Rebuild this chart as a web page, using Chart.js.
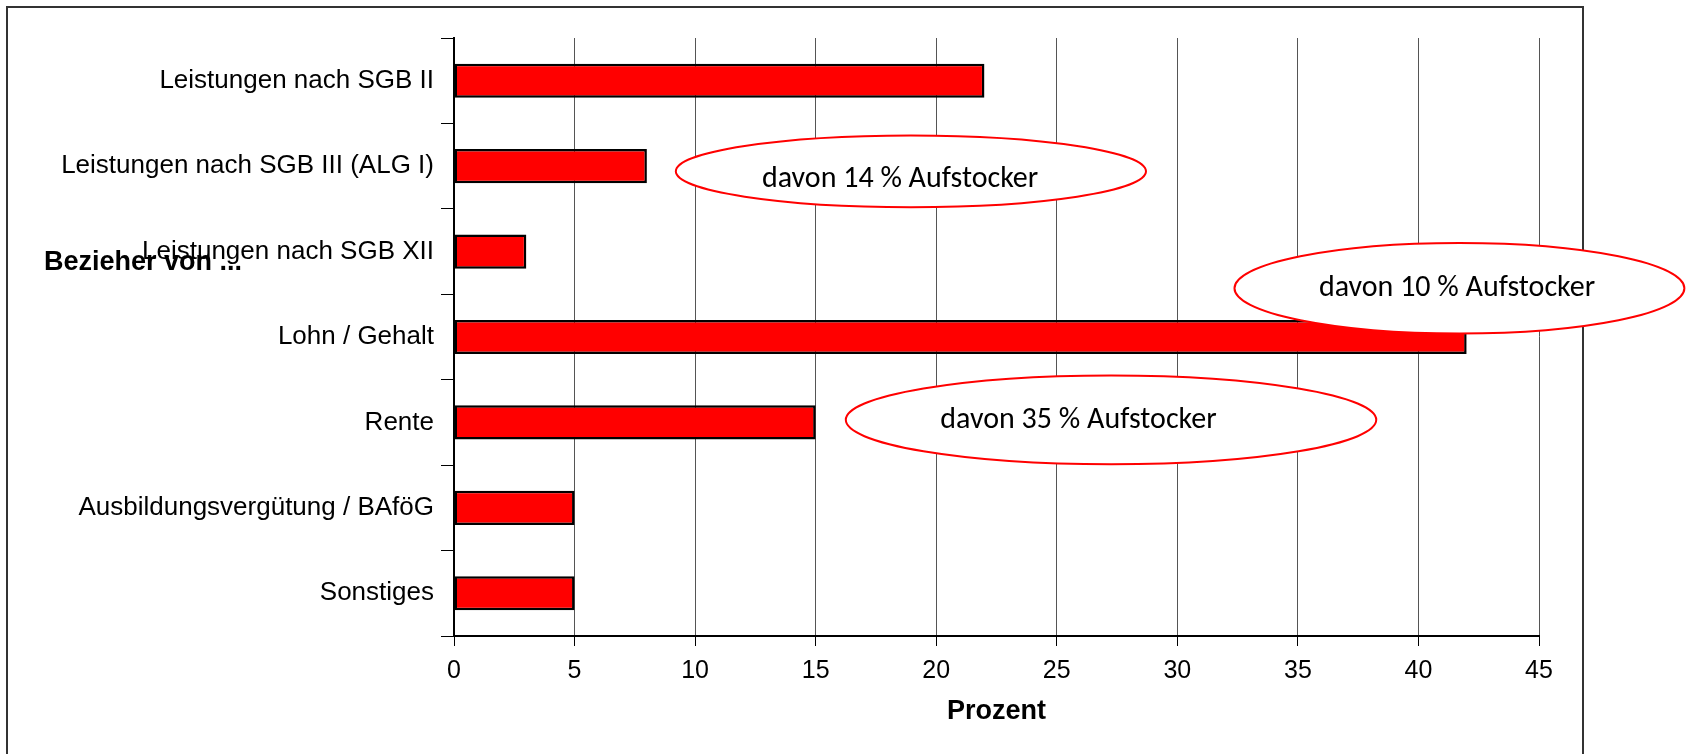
<!DOCTYPE html>
<html lang="de">
<head>
<meta charset="utf-8">
<title>Bezieher von ...</title>
<script src="https://cdn.jsdelivr.net/npm/chart.js@4/dist/chart.umd.min.js"></script>
<style>
  html, body { margin: 0; padding: 0; background: #fff; }
  #wrap { position: relative; width: 1688px; height: 754px; }
</style>
</head>
<body>
<div id="wrap"><canvas id="incomeChart"></canvas></div>
<script>
const categories = [
  "Leistungen nach SGB II",
  "Leistungen nach SGB III (ALG I)",
  "Leistungen nach SGB XII",
  "Lohn / Gehalt",
  "Rente",
  "Ausbildungsvergütung / BAföG",
  "Sonstiges"
];
const percentValues = [22, 8, 3, 42, 15, 5, 5];
const xMin = 0;
const xMax = 45;
const xStep = 5;

const axisTitle = "Prozent";
const groupTitle = "Bezieher von ...";
const noteTexts = ["davon 14 % Aufstocker", "davon 10 % Aufstocker", "davon 35 % Aufstocker"];

// where the callout ellipses sit, in axis units (x = percent, y = row index)
const noteLayout = [
  { cx: 18.95, cy: 1.06, rx: 9.75, ry: 0.42, tx: 18.5, ty: 1.244 },
  { cx: 41.7,  cy: 2.43, rx: 9.33, ry: 0.53, tx: 41.6, ty: 2.52 },
  { cx: 27.25, cy: 3.97, rx: 11,   ry: 0.52, tx: 25.9, ty: 4.07 }
];

const ARIAL = "'Liberation Sans', Arial, sans-serif";

const calloutPlugin = {
  id: 'callouts',
  beforeDraw(chart) {
    const ctx = chart.ctx;
    ctx.save();
    ctx.strokeStyle = '#333';
    ctx.lineWidth = 2;
    ctx.beginPath();
    ctx.moveTo(7, 754);
    ctx.lineTo(7, 7);
    ctx.lineTo(1583, 7);
    ctx.lineTo(1583, 754);
    ctx.stroke();
    ctx.restore();
  },
  afterDatasetsDraw(chart) {
    const {ctx, scales: {x, y}} = chart;
    const row = y.getPixelForValue(1) - y.getPixelForValue(0);
    const unit = x.getPixelForValue(1) - x.getPixelForValue(0);

    ctx.save();
    noteLayout.forEach((n, i) => {
      ctx.beginPath();
      ctx.ellipse(x.getPixelForValue(n.cx), y.getPixelForValue(n.cy),
                  n.rx * unit, n.ry * row, 0, 0, Math.PI * 2);
      ctx.fillStyle = '#fff';
      ctx.fill();
      ctx.lineWidth = 2;
      ctx.strokeStyle = '#ff0000';
      ctx.stroke();

      ctx.fillStyle = '#000';
      ctx.font = "30px Carlito, Lato, sans-serif";
      ctx.textAlign = 'center';
      ctx.textBaseline = 'alphabetic';
      ctx.fillText(noteTexts[i], x.getPixelForValue(n.tx), y.getPixelForValue(n.ty));
    });

    ctx.font = "bold 27px " + ARIAL;
    ctx.textAlign = 'left';
    ctx.fillStyle = '#000';
    ctx.fillText(groupTitle, 44, 270);
    ctx.restore();
  }
};

const ctx = document.getElementById('incomeChart');

new Chart(ctx, {
  type: 'bar',
  data: {
    labels: categories,
    datasets: [{
      data: percentValues,
      backgroundColor: '#ff0000',
      borderColor: '#000',
      borderWidth: 2.5,
      borderSkipped: false,
      categoryPercentage: 1,
      barPercentage: 0.4
    }]
  },
  options: {
    indexAxis: 'y',
    responsive: true,
    maintainAspectRatio: false,
    animation: false,
    layout: { padding: { top: 38, right: 149, left: 0, bottom: 0 } },
    plugins: {
      legend: { display: false },
      tooltip: { enabled: false }
    },
    scales: {
      x: {
        min: xMin,
        max: xMax,
        afterFit: s => { s.height = 118; },
        ticks: {
          stepSize: xStep,
          color: '#000',
          padding: 10,
          font: { family: ARIAL, size: 25 }
        },
        grid: { color: '#555', lineWidth: 1, tickLength: 10, tickColor: '#000' },
        border: { display: true, color: '#000', width: 2 },
        title: {
          display: true,
          text: axisTitle,
          color: '#000',
          font: { family: ARIAL, size: 27, weight: 'bold' },
          padding: { top: 0, bottom: 26 }
        }
      },
      y: {
        afterFit: s => { s.width = 454; },
        ticks: {
          color: '#000',
          padding: 7,
          font: { family: ARIAL, size: 26 }
        },
        grid: { drawOnChartArea: false, tickLength: 13, color: '#000', lineWidth: 1 },
        border: { display: true, color: '#000', width: 2 }
      }
    }
  },
  plugins: [calloutPlugin]
});
</script>
</body>
</html>
